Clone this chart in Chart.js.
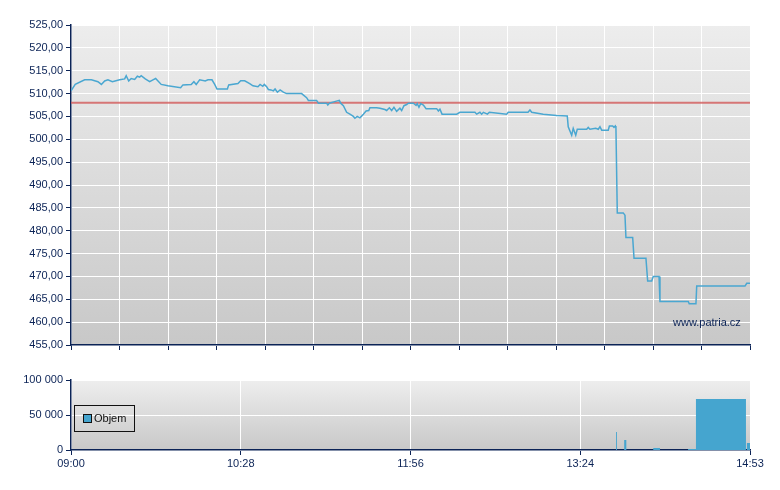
<!DOCTYPE html>
<html>
<head>
<meta charset="utf-8">
<script src="https://cdn.jsdelivr.net/npm/chart.js@4/dist/chart.umd.min.js"></script>
<style>
  body { margin: 0; background: #fff; font-family: 'Liberation Sans', Arial, sans-serif; }
  #wrap { position: relative; width: 780px; height: 490px; }
  #price { position: absolute; left: 0; top: 0; }
  #vol { position: absolute; left: 0; top: 360px; }
  .mark { position: absolute; left: 673px; top: 316px; font-size: 11px; color: #0b2356; }
  .legend { position: absolute; left: 74px; top: 405px; width: 59px; height: 25px; border: 1px solid #111; font-size: 11px; color: #111; }
  .legend i { position: absolute; left: 8px; top: 8px; width: 7px; height: 7px; background: #45a5cf; border: 1px solid #111; }
  .legend span { position: absolute; left: 19px; top: 6px; }
</style>
</head>
<body>
<div id="wrap">
  <canvas id="price" width="780" height="360"></canvas>
  <canvas id="vol" width="780" height="130"></canvas>
  <div class="mark">www.patria.cz</div>
  <div class="legend"><i></i><span>Objem</span></div>
</div>
<script>
const log = console.log;
const navy = '#0b2356';

// minutes since 09:00 and price (10 per row, rows line up)
const priceTime = [
  0, 2.2, 7.1, 10.6, 14.0, 15.8, 17.5, 19.2, 21.5, 25.3,
  27.9, 28.7, 30.0, 31.3, 33.1, 34.5, 35.7, 36.5, 38.6, 40.9,
  42.6, 44.0, 46.9, 50.4, 57.0, 58.2, 62.5, 63.9, 65.1, 66.9,
  69.8, 71.2, 73.3, 74.7, 75.9, 81.3, 82.0, 86.8, 88.2, 90.3,
  92.9, 94.6, 97.2, 98.3, 99.7, 100.5, 101.7, 102.6, 104.0, 105.2,
  106.1, 107.3, 108.7, 110.4, 112.1, 119.9, 122.5, 123.4, 127.7, 128.6,
  132.9, 133.5, 134.3, 138.4, 139.5, 140.2, 141.6, 143.3, 145.0, 146.8,
  147.6, 148.8, 150.2, 152.0, 153.4, 154.8, 155.4, 158.9, 160.6, 163.2,
  164.1, 165.5, 166.7, 167.9, 169.3, 171.0, 171.9, 173.1, 174.5, 175.4,
  178.0, 179.4, 180.0, 180.9, 181.8, 183.2, 184.6, 190.1, 191.0, 191.8,
  192.9, 200.5, 202.2, 210.0, 210.9, 212.6, 213.5, 214.4, 216.5, 217.5,
  226.5, 227.3, 237.6, 238.6, 239.5, 245.5, 252.5, 258.0, 258.5, 260.3,
  261.1, 262.4, 263.2, 268.1, 268.9, 269.8, 272.8, 274.1, 275.0, 275.9,
  279.3, 279.9, 281.6, 282.3, 283.0, 283.3, 284.0, 287.1, 288.0, 288.5,
  292.0, 292.7, 298.9, 299.8, 301.9, 302.7, 305.7, 306.2, 320.9, 321.4,
  324.9, 325.3, 350.4, 351.3, 353,
];
const priceValue = [
  510.6, 512.0, 513.0, 513.0, 512.6, 512.0, 512.75, 513.0, 512.6, 513.0,
  513.2, 513.9, 512.75, 513.3, 513.1, 513.8, 513.6, 513.9, 513.2, 512.6,
  513.0, 513.3, 512.0, 511.7, 511.3, 511.9, 512.0, 512.6, 512.0, 513.0,
  512.75, 513.0, 513.0, 512.0, 511.0, 511.0, 511.9, 512.2, 512.8, 512.8,
  512.2, 511.7, 511.5, 512.0, 511.6, 512.0, 511.5, 510.9, 510.8, 510.6,
  511.0, 510.3, 510.8, 510.3, 510.0, 510.0, 509.1, 508.5, 508.5, 507.9,
  507.9, 507.5, 507.9, 508.4, 508.5, 507.9, 507.35, 505.9, 505.5, 505.0,
  504.6, 505.0, 504.7, 505.5, 506.2, 506.3, 506.9, 506.9, 506.8, 506.5,
  506.3, 506.9, 506.3, 507.0, 506.1, 506.8, 506.3, 507.35, 507.6, 507.9,
  507.9, 507.4, 507.8, 507.0, 507.8, 507.5, 506.7, 506.7, 506.2, 506.6,
  505.5, 505.5, 505.9, 505.9, 505.5, 505.9, 505.5, 505.9, 505.5, 505.9,
  505.5, 505.9, 505.9, 506.4, 505.9, 505.5, 505.2, 505.1, 502.75, 500.9,
  502.4, 500.9, 502.2, 502.2, 502.6, 502.2, 502.4, 502.2, 502.75, 502.0,
  502.0, 502.9, 502.9, 502.6, 502.9, 502.5, 483.9, 483.9, 483.4, 478.5,
  478.5, 474.0, 474.0, 469.0, 469.0, 470.0, 470.0, 464.5, 464.5, 464.0,
  464.0, 467.9, 467.9, 468.5, 468.5,
];

const refPrice = 508.0;

// volume blocks: start, end (minutes), volume
const volStart = [283.3, 287.6, 299.6, 302.7, 320.8, 324.9, 351.4];
const volEnd = [283.8, 288.7, 299.9, 306.2, 324.9, 350.9, 353];
const volValue = [25700, 14300, 31400, 3000, 1500, 72900, 10000];

const timeTicks = [0, 88.25, 176.5, 264.75, 353];
const timeLabels = ['09:00', '10:28', '11:56', '13:24', '14:53'];

Chart.defaults.font.family = "'Liberation Sans', Arial, sans-serif";
Chart.defaults.font.size = 11;
Chart.defaults.color = navy;

const bgPlugin = (top, bottom) => ({
  id: 'bg',
  beforeDraw(chart) {
    const { ctx, chartArea: a } = chart;
    const g = ctx.createLinearGradient(0, a.top, 0, a.bottom);
    g.addColorStop(0, top);
    g.addColorStop(1, bottom);
    ctx.save();
    ctx.fillStyle = g;
    ctx.fillRect(a.left, a.top, a.right - a.left, a.bottom - a.top);
    ctx.restore();
  },
});

const pricePts = priceTime.map((t, i) => ({ x: t, y: priceValue[i] }));

const chart1 = new Chart(document.getElementById('price').getContext('2d'), {
  type: 'line',
  data: {
    datasets: [
      {
        data: [{ x: 0, y: refPrice }, { x: 353, y: refPrice }],
        borderColor: 'rgba(210,90,90,0.8)',
        borderWidth: 2,
        pointRadius: 0,
        order: 2,
      },
      {
        data: pricePts,
        borderColor: '#4aa7d1',
        borderWidth: 1.5,
        pointRadius: 0,
        tension: 0,
        order: 1,
      },
    ],
  },
  options: {
    responsive: false,
    animation: false,
    layout: { padding: { left: 0, right: 30, top: 25, bottom: 0 } },
    plugins: { legend: { display: false }, tooltip: { enabled: false } },
    scales: {
      x: {
        type: 'linear',
        min: 0,
        max: 353,
        afterBuildTicks: (s) => {
          const t = [];
          for (let i = 0; i <= 14; i++) t.push({ value: (i * 353) / 14 });
          s.ticks = t;
        },
        afterFit: (s) => { s.height = 15; },
        ticks: { display: false },
        grid: { color: '#ffffff', tickColor: navy, tickLength: 5, lineWidth: 1 },
        border: { color: navy, width: 1.5 },
      },
      y: {
        min: 455,
        max: 525,
        afterFit: (s) => { s.width = 71; },
        ticks: {
          stepSize: 5,
          padding: 3,
          callback: (v) => v.toFixed(2).replace('.', ','),
        },
        grid: { color: '#ffffff', tickColor: navy, tickLength: 5, lineWidth: 1 },
        border: { color: navy, width: 1.5 },
      },
    },
  },
  plugins: [bgPlugin('#ededed', '#c8c8c8')],
});

const volPts = [];
volStart.forEach((s, i) => {
  volPts.push({ x: s, y: 0 }, { x: s, y: volValue[i] }, { x: volEnd[i], y: volValue[i] }, { x: volEnd[i], y: 0 });
});

const chart2 = new Chart(document.getElementById('vol').getContext('2d'), {
  type: 'line',
  data: {
    datasets: [
      {
        data: volPts,
        borderWidth: 0,
        borderColor: '#45a5cf',
        backgroundColor: '#45a5cf',
        fill: 'origin',
        pointRadius: 0,
        tension: 0,
      },
    ],
  },
  options: {
    responsive: false,
    animation: false,
    layout: { padding: { left: 0, right: 30, top: 20, bottom: 0 } },
    plugins: { legend: { display: false }, tooltip: { enabled: false } },
    scales: {
      x: {
        type: 'linear',
        min: 0,
        max: 353,
        afterBuildTicks: (s) => {
          s.ticks = timeTicks.map((v) => ({ value: v }));
        },
        afterFit: (s) => { s.height = 40; },
        ticks: {
          padding: 2,
          maxRotation: 0,
          callback: (v) => timeLabels[timeTicks.indexOf(v)],
        },
        grid: { color: '#ffffff', tickColor: navy, tickLength: 5 },
        border: { color: navy, width: 1.5 },
      },
      y: {
        min: 0,
        max: 100000,
        afterFit: (s) => { s.width = 71; },
        ticks: {
          stepSize: 50000,
          padding: 3,
          callback: (v) => String(v).replace(/\B(?=(\d{3})+(?!\d))/g, ' '),
        },
        grid: { color: '#ffffff', tickColor: navy, tickLength: 5 },
        border: { color: navy, width: 1.5 },
      },
    },
  },
  plugins: [bgPlugin('#eeeeee', '#c8c8c8')],
});
log('done');
</script>
</body>
</html>
